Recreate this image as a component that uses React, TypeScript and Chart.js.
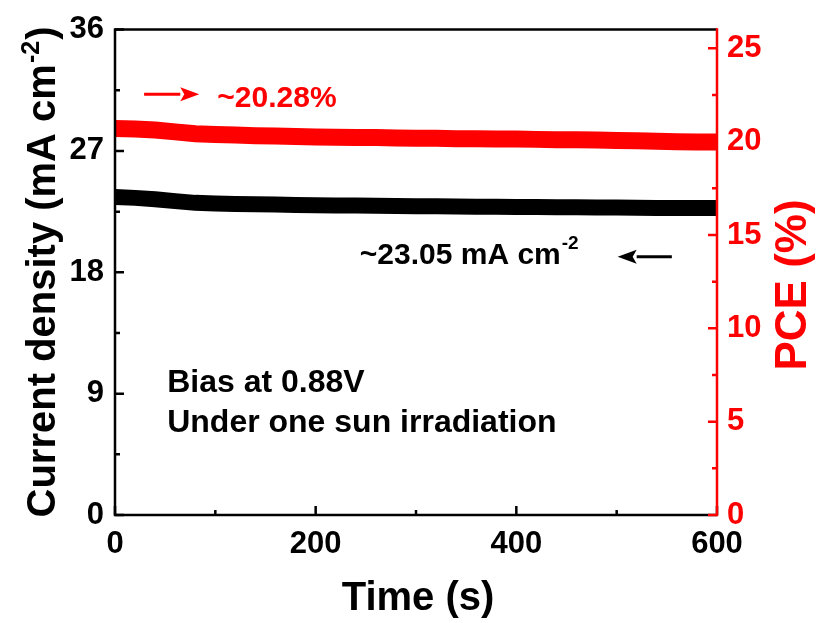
import React, { useEffect, useRef } from "react";
import { Chart, registerables } from "chart.js";

Chart.register(...registerables);

// ---- data ----
const timeS = [0, 20, 40, 60, 80, 100, 120, 140, 160, 180, 200, 220, 240, 260, 280, 300, 320, 340, 360, 380, 400, 420, 440, 460, 480, 500, 520, 540, 560, 580, 600];
const currentDensity = [23.58, 23.52, 23.42, 23.28, 23.15, 23.10, 23.07, 23.05, 23.02, 23.00, 22.98, 22.96, 22.95, 22.93, 22.92, 22.90, 22.90, 22.88, 22.87, 22.86, 22.85, 22.84, 22.83, 22.82, 22.80, 22.80, 22.78, 22.76, 22.76, 22.77, 22.76];
const pce = [20.70, 20.68, 20.62, 20.52, 20.42, 20.38, 20.35, 20.32, 20.30, 20.27, 20.25, 20.24, 20.22, 20.22, 20.20, 20.18, 20.18, 20.16, 20.15, 20.14, 20.14, 20.12, 20.10, 20.10, 20.08, 20.06, 20.04, 20.02, 19.99, 19.98, 19.98];
const leftTicks = [0, 9, 18, 27, 36];
const rightTicks = [0, 5, 10, 15, 20, 25];
const xTicks = [0, 200, 400, 600];
const pceLabel = "~20.28%";
const jLabel = "~23.05 mA cm";
const noteLines = ["Bias at 0.88V", "Under one sun irradiation"];

const FONT = "'Liberation Sans', Arial, sans-serif";
const RED = "#ff0000";

const decorPlugin = {
  id: "decor",
  afterDatasetsDraw(chart: any) {
    const { ctx, chartArea, scales } = chart;
    const { left: L, right: R, top: T, bottom: B } = chartArea;
    const x = scales.x, y = scales.y, y1 = scales.y1;
    ctx.save();
    ctx.lineWidth = 2.5;
    ctx.lineCap = "butt";
    // black frame: left, top, bottom
    ctx.strokeStyle = "#000";
    ctx.beginPath();
    ctx.moveTo(L, B + 1.25);
    ctx.lineTo(L, T);
    ctx.lineTo(R, T);
    ctx.moveTo(L, B);
    ctx.lineTo(R, B);
    ctx.stroke();
    // left ticks
    ctx.beginPath();
    for (let v = 0; v <= 36.001; v += 4.5) {
      const py = y.getPixelForValue(v);
      const len = Math.abs(v % 9) < 0.01 ? 9 : 5;
      ctx.moveTo(L, py);
      ctx.lineTo(L + len, py);
    }
    // bottom ticks
    for (let v = 0; v <= 600; v += 100) {
      const px = x.getPixelForValue(v);
      const len = v % 200 === 0 ? 9 : 5;
      ctx.moveTo(px, B);
      ctx.lineTo(px, B - len);
    }
    ctx.stroke();
    // red right axis
    ctx.strokeStyle = RED;
    ctx.beginPath();
    ctx.moveTo(R, T - 1.25);
    ctx.lineTo(R, B + 1.25);
    for (let v = 0; v <= 25.001; v += 2.5) {
      const py = y1.getPixelForValue(v);
      const len = Math.abs(v % 5) < 0.01 ? 9 : 5;
      ctx.moveTo(R, py);
      ctx.lineTo(R - len, py);
    }
    ctx.stroke();

    // axis titles
    ctx.fillStyle = "#000";
    ctx.textBaseline = "middle";
    ctx.textAlign = "center";
    ctx.font = `bold 40px ${FONT}`;
    ctx.fillText("Time (s)", 418, 599);

    // left title with superscript
    ctx.save();
    ctx.translate(41, 272);
    ctx.rotate(-Math.PI / 2);
    ctx.textAlign = "left";
    ctx.textBaseline = "alphabetic";
    const mainF = `bold 40px ${FONT}`;
    const supF = `bold 25px ${FONT}`;
    ctx.font = mainF;
    const p1 = "Current density (mA cm";
    const w1 = ctx.measureText(p1).width;
    const w3 = ctx.measureText(")").width;
    ctx.font = supF;
    const w2 = ctx.measureText("-2").width;
    const tot = w1 + w2 + w3 + 2;
    let cx = -tot / 2;
    const base = 14;
    ctx.font = mainF;
    ctx.fillText(p1, cx, base);
    cx += w1 + 1;
    ctx.font = supF;
    ctx.fillText("-2", cx, base - 16);
    cx += w2 + 1;
    ctx.font = mainF;
    ctx.fillText(")", cx, base);
    ctx.restore();

    // right title
    ctx.save();
    ctx.translate(794, 285);
    ctx.rotate(-Math.PI / 2);
    ctx.fillStyle = RED;
    ctx.textAlign = "center";
    ctx.textBaseline = "middle";
    ctx.font = `bold 44px ${FONT}`;
    ctx.fillText("PCE (%)", 0, 0);
    ctx.restore();

    // annotations
    const arrow = (x0: number, x1: number, yy: number, color: string) => {
      const dir = Math.sign(x1 - x0);
      const headL = 19;
      ctx.strokeStyle = color;
      ctx.fillStyle = color;
      ctx.lineWidth = 3;
      ctx.beginPath();
      ctx.moveTo(x0, yy);
      ctx.lineTo(x1 - dir * headL, yy);
      ctx.stroke();
      ctx.beginPath();
      ctx.moveTo(x1, yy);
      ctx.lineTo(x1 - dir * headL, yy - 7);
      ctx.lineTo(x1 - dir * (headL - 4), yy);
      ctx.lineTo(x1 - dir * headL, yy + 7);
      ctx.closePath();
      ctx.fill();
    };
    // red arrow + label
    const ry = y.getPixelForValue(31.2);
    arrow(x.getPixelForValue(29), x.getPixelForValue(84), ry, RED);
    ctx.fillStyle = RED;
    ctx.textAlign = "left";
    ctx.textBaseline = "middle";
    ctx.font = `bold 30px ${FONT}`;
    ctx.fillText(pceLabel, x.getPixelForValue(102), y.getPixelForValue(30.9));

    // black label + arrow
    const by = y.getPixelForValue(19.2);
    ctx.fillStyle = "#000";
    const tx = x.getPixelForValue(244);
    ctx.fillText(jLabel, tx, by);
    const wj = ctx.measureText(jLabel).width;
    ctx.font = `bold 19px ${FONT}`;
    ctx.fillText("-2", tx + wj + 1, by - 12);
    arrow(x.getPixelForValue(555), x.getPixelForValue(501), y.getPixelForValue(19.15), "#000");

    // notes
    ctx.fillStyle = "#000";
    ctx.font = `bold 32px ${FONT}`;
    ctx.fillText(noteLines[0], x.getPixelForValue(52), y.getPixelForValue(9.76));
    ctx.fillText(noteLines[1], x.getPixelForValue(52), y.getPixelForValue(6.8));
    ctx.restore();
  },
};

export default function App() {
  const ref = useRef<HTMLCanvasElement | null>(null);
  useEffect(() => {
    if (!ref.current) return;
    const tickFont = { family: FONT, size: 31, weight: "bold" as const };
    const chart = new Chart(ref.current, {
      type: "line",
      data: {
        datasets: [
          {
            label: "J",
            data: timeS.map((t, i) => ({ x: t, y: currentDensity[i] })),
            borderColor: "#000",
            borderWidth: 16,
            pointRadius: 0,
            yAxisID: "y",
            tension: 0,
            borderCapStyle: "butt",
          },
          {
            label: "PCE",
            data: timeS.map((t, i) => ({ x: t, y: pce[i] })),
            borderColor: RED,
            borderWidth: 17,
            pointRadius: 0,
            yAxisID: "y1",
            tension: 0,
            borderCapStyle: "butt",
          },
        ],
      },
      options: {
        animation: false,
        responsive: false,
        devicePixelRatio: 1,
        clip: { left: 0, right: 0, top: 20, bottom: 20 } as any,
        layout: { padding: { top: 28, left: 0, right: 0, bottom: 0 } },
        plugins: { legend: { display: false }, tooltip: { enabled: false } },
        scales: {
          x: {
            type: "linear",
            min: 0,
            max: 600,
            grid: { display: false, drawTicks: false },
            border: { display: false },
            afterBuildTicks: (s: any) => { s.ticks = xTicks.map((v) => ({ value: v })); },
            ticks: { font: tickFont, color: "#000", padding: 11, maxRotation: 0, autoSkip: false },
            afterFit: (s: any) => { s.height = 108; },
          },
          y: {
            type: "linear",
            position: "left",
            min: 0,
            max: 36,
            grid: { display: false, drawTicks: false },
            border: { display: false },
            afterBuildTicks: (s: any) => { s.ticks = leftTicks.map((v) => ({ value: v })); },
            ticks: { font: tickFont, color: "#000", padding: 11 },
            afterFit: (s: any) => { s.width = 115; },
          },
          y1: {
            type: "linear",
            position: "right",
            min: 0,
            max: 26,
            grid: { display: false, drawTicks: false },
            border: { display: false },
            afterBuildTicks: (s: any) => { s.ticks = rightTicks.map((v) => ({ value: v })); },
            ticks: { font: tickFont, color: RED, padding: 10 },
            afterFit: (s: any) => { s.width = 101; },
          },
        },
      } as any,
      plugins: [decorPlugin],
    });
    return () => chart.destroy();
  }, []);
  return (
    <div style={{ position: "fixed", left: 0, top: 0, width: 818, height: 623, background: "#fff" }}>
      <canvas ref={ref} width={818} height={623} style={{ display: "block" }} />
    </div>
  );
}
